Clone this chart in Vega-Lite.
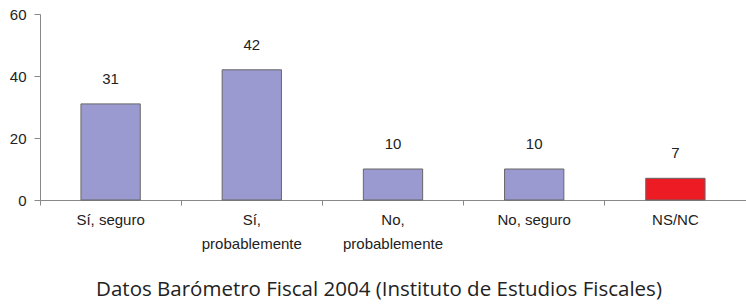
{
  "$schema": "https://vega.github.io/schema/vega-lite/v6.json",
  "autosize": "none",
  "width": 706,
  "height": 186,
  "padding": {"left": 40, "top": 14, "right": 0, "bottom": 104},
  "background": "white",
  "config": {"view": {"stroke": null}, "font": "Liberation Sans"},
  "title": {
    "text": "Datos Barómetro Fiscal 2004 (Instituto de Estudios Fiscales)",
    "orient": "bottom",
    "anchor": "middle",
    "font": "Open Sans",
    "fontSize": 20.5,
    "fontWeight": "normal",
    "color": "#222222",
    "offset": 29,
    "dx": -14
  },
  "data": {
    "values": [
      {"cat": "Sí, seguro", "val": 31, "grp": "a"},
      {"cat": "Sí,|probablemente", "val": 42, "grp": "a"},
      {"cat": "No,|probablemente", "val": 10, "grp": "a"},
      {"cat": "No, seguro", "val": 10, "grp": "a"},
      {"cat": "NS/NC", "val": 7, "grp": "b"}
    ]
  },
  "encoding": {
    "x": {
      "field": "cat",
      "type": "nominal",
      "sort": null,
      "scale": {"paddingInner": 0, "paddingOuter": 0},
      "axis": {
        "title": null,
        "labelAngle": 0,
        "labelExpr": "split(datum.label, '|')",
        "labelLineHeight": 24,
        "labelFontSize": 15,
        "labelColor": "#222222",
        "labelPadding": 7,
        "bandPosition": 0,
        "domainColor": "#888888",
        "tickColor": "#888888",
        "tickSize": 5,
        "grid": false
      }
    },
    "y": {
      "field": "val",
      "type": "quantitative",
      "scale": {"domain": [0, 60], "nice": false},
      "axis": {
        "title": null,
        "values": [0, 20, 40, 60],
        "labelFontSize": 15,
        "labelColor": "#222222",
        "labelPadding": 8,
        "domainColor": "#888888",
        "tickColor": "#888888",
        "tickSize": 6,
        "grid": false
      }
    }
  },
  "layer": [
    {
      "mark": {"type": "bar", "width": {"band": 0.42}, "stroke": "#666666", "strokeWidth": 1},
      "encoding": {
        "color": {
          "field": "grp",
          "type": "nominal",
          "scale": {"domain": ["a", "b"], "range": ["#9b9ad0", "#ed1c24"]},
          "legend": null
        }
      }
    },
    {
      "mark": {"type": "text", "dy": -25, "baseline": "middle", "fontSize": 15, "color": "#222222"},
      "encoding": {"text": {"field": "val", "type": "quantitative"}}
    }
  ]
}
